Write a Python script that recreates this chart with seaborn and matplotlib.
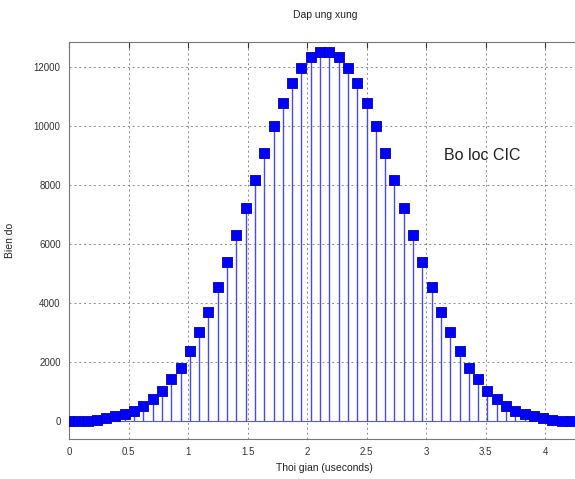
import numpy as np
import pandas as pd
import matplotlib
matplotlib.use("Agg")
import matplotlib.pyplot as plt
import seaborn as sns

# ---- data ----
sample_period_us = 0.078125
amplitudes = [1, 8, 25, 55, 100, 165, 245, 350, 505, 740,
              1040, 1425, 1820, 2380, 3020, 3715, 4540, 5380, 6305, 7235,
              8170, 9090, 10020, 10770, 11455, 11955, 12350, 12500, 12500, 12350,
              11955, 11455, 10770, 10020, 9090, 8170, 7235, 6305, 5380, 4540,
              3715, 3020, 2380, 1820, 1425, 1040, 740, 505, 350, 245,
              165, 100, 55, 25, 8, 1]
times = np.arange(len(amplitudes)) * sample_period_us
x_ticks = [0, 0.5, 1, 1.5, 2, 2.5, 3, 3.5, 4]
x_tick_labels = ["0", "0.5", "1", "1.5", "2", "2.5", "3", "3.5", "4"]
y_ticks = [0, 2000, 4000, 6000, 8000, 10000, 12000]
y_tick_labels = ["0", "2000", "4000", "6000", "8000", "10000", "12000"]

df = pd.DataFrame({"t": times, "h": amplitudes})

sns.set_style("white")
plt.rcParams["font.family"] = ["Liberation Sans", "DejaVu Sans"]

W, H = 575, 479
fig = plt.figure(figsize=(W / 100, H / 100), dpi=100)
ax_w_px = (W - 69) + 5.75
ax = fig.add_axes([69 / W, 1 - 439 / H, ax_w_px / W, (439 - 42) / H])

# stems
ax.vlines(df["t"], 0, df["h"], colors="#4a4ae6", linewidth=1.0, zorder=2)
ax.axhline(0, color="#5a5ad0", linewidth=0.8, zorder=2)
sns.scatterplot(data=df, x="t", y="h", marker="s", s=50, color="#0000ff",
                edgecolor="#0000b0", linewidth=0.6, ax=ax, zorder=3, legend=False)

ax.set_xlim(0, 4.30)
ax.set_ylim(-600, 12850)
ax.set_xticks(x_ticks)
ax.set_xticklabels(x_tick_labels)
ax.set_yticks(y_ticks)
ax.set_yticklabels(y_tick_labels)

ax.grid(True, linestyle=(0, (2, 3)), color="#8a8a8a", linewidth=0.7, zorder=0)
ax.tick_params(direction="in", length=4, labelsize=7, colors="#333333",
               top=True, right=False, pad=6)
for side in ["left", "bottom", "top"]:
    ax.spines[side].set_color("#777777")
    ax.spines[side].set_linewidth(0.8)
ax.spines["right"].set_visible(False)

ax.set_xlabel("Thoi gian (useconds)", fontsize=7.5, color="#222222", labelpad=4)
ax.set_ylabel("Bien do", fontsize=7.5, color="#222222")
ax.yaxis.set_label_coords(-(69 - 15) / ax_w_px, 0.5)
ax.set_title("Dap ung xung", fontsize=7.5, color="#222222", pad=17)
ax.text(3.15, 9000, "Bo loc CIC", fontsize=11.5, color="#222222", va="center")

fig.savefig("out.png", dpi=100)
